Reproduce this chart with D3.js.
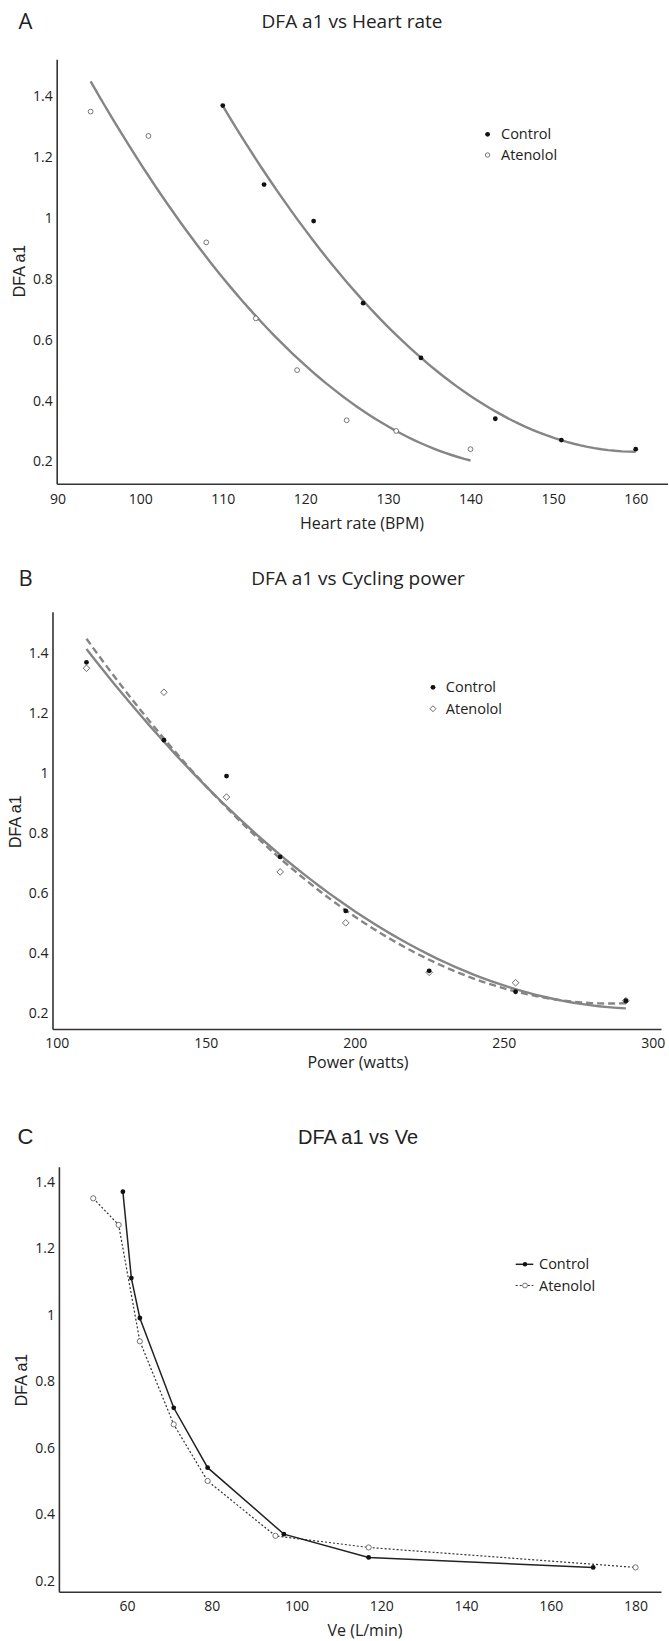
<!DOCTYPE html>
<html>
<head>
<meta charset="utf-8">
<script src="https://cdn.jsdelivr.net/npm/d3@7"></script>
<style>
  body { margin: 0; background: #fff; }
  svg text { font-family: "Open Sans", sans-serif; fill: #222; }
  .arial { font-family: "Liberation Sans", Arial, sans-serif !important; }
</style>
</head>
<body>
<svg id="chart" width="669" height="1641"></svg>
<script>
// DFA a1 at each exercise stage
const dfaControl = [1.37, 1.11, 0.99, 0.72, 0.54, 0.34, 0.27, 0.24];
const dfaAtenolol = [1.35, 1.27, 0.92, 0.67, 0.50, 0.335, 0.30, 0.24];

// panel A - heart rate
const hrControl = [110, 115, 121, 127, 134, 143, 151, 160];
const hrAtenolol = [94, 101, 108, 114, 119, 125, 131, 140];
// panel B - cycling power (same stages)
const powerControl = [110, 136, 157, 175, 197, 225, 254, 291];
const powerAtenolol = [110, 136, 157, 175, 197, 225, 254, 291];
// panel C - ventilation
const veControl = [59, 61, 63, 71, 79, 97, 117, 170];
const veAtenolol = [52, 58, 63, 71, 79, 95, 117, 180];

const yTicks = [0.2, 0.4, 0.6, 0.8, 1, 1.2, 1.4];
const hrTicks = [90, 100, 110, 120, 130, 140, 150, 160];
const powerTicks = [100, 150, 200, 250, 300];
const veTicks = [60, 80, 100, 120, 140, 160, 180];

const svg = d3.select("#chart");

// least squares quadratic, like the spreadsheet trendline
function polyfit2(xs, ys) {
    const n = xs.length;
    const mx = d3.mean(xs);
    let S = [0, 0, 0, 0, 0], T = [0, 0, 0];
    for (let i = 0; i < n; i++) {
        const u = xs[i] - mx;
        for (let k = 0; k < 5; k++) S[k] += Math.pow(u, k);
        for (let k = 0; k < 3; k++) T[k] += ys[i] * Math.pow(u, k);
    }
    const A = [[S[0], S[1], S[2]], [S[1], S[2], S[3]], [S[2], S[3], S[4]]];
    const det = m => m[0][0]*(m[1][1]*m[2][2]-m[1][2]*m[2][1]) - m[0][1]*(m[1][0]*m[2][2]-m[1][2]*m[2][0]) + m[0][2]*(m[1][0]*m[2][1]-m[1][1]*m[2][0]);
    const D = det(A);
    const c = [0, 1, 2].map(j => det(A.map((row, i) => row.map((v, k) => k === j ? T[i] : v))) / D);
    return x => { const u = x - mx; return c[0] + c[1]*u + c[2]*u*u; };
}

function fitPoints(xs, ys) {
    const f = polyfit2(xs, ys);
    const lo = d3.min(xs), hi = d3.max(xs);
    return d3.range(0, 61).map(i => { const x = lo + (hi - lo) * i / 60; return [x, f(x)]; });
}

function diamond(r) {
    return `M0,${-r}L${r},0L0,${r}L${-r},0Z`;
}

function drawFrame(p) {
    const g = svg.append("g");
    const x = d3.scaleLinear().domain(p.xDomain).range(p.xRange);
    const y = d3.scaleLinear().domain(p.yDomain).range(p.yRange);

    const xAxis = g.append("g").attr("transform", `translate(0,${p.yRange[0]})`)
        .call(d3.axisBottom(x).tickValues(p.xTicks).tickSize(0).tickSizeOuter(0).tickPadding(p.xPad));
    const yAxis = g.append("g").attr("transform", `translate(${p.xRange[0]},0)`)
        .call(d3.axisLeft(y).tickValues(yTicks).tickSize(0).tickSizeOuter(0).tickPadding(4)
            .tickFormat(d => d === 1 ? "1" : d3.format(".1f")(d)));
    [xAxis, yAxis].forEach(a => {
        a.select(".domain").attr("stroke", "#333").attr("stroke-width", 1.6);
        a.selectAll("text").attr("font-size", 14).attr("fill", "#222")
            .style("font-family", "'Open Sans', sans-serif");
    });

    g.append("text").attr("x", 25.5).attr("y", p.titleY).attr("dy", "0.35em")
        .attr("text-anchor", "middle").attr("font-size", 22)
        .attr("class", p.arialTitle ? "arial" : null).text(p.letter);
    g.append("text").attr("x", p.titleX).attr("y", p.titleY).attr("dy", "0.35em")
        .attr("text-anchor", "middle").attr("font-size", p.arialTitle ? 20 : 19)
        .attr("class", p.arialTitle ? "arial" : null).text(p.title);
    g.append("text").attr("x", p.xLabelX).attr("y", p.xLabelY).attr("dy", "0.35em")
        .attr("text-anchor", "middle").attr("font-size", 16).text(p.xLabel);
    g.append("text").attr("class", "arial")
        .attr("transform", `translate(${p.yLabelX},${p.yLabelY}) rotate(-90)`)
        .attr("dy", "0.35em").attr("text-anchor", "middle").attr("font-size", 16).text("DFA a1");

    return { g, x, y };
}

function legendText(g, lx, ly, label) {
    g.append("text").attr("x", lx).attr("y", ly).attr("dy", "0.35em")
        .attr("font-size", 14.5).text(label);
}

// ---------- A ----------
(function () {
    const { g, x, y } = drawFrame({
        letter: "A", title: "DFA a1 vs Heart rate", titleX: 352, titleY: 21.5,
        xDomain: [89.89, 163.85], xRange: [56.7, 667.5], xTicks: hrTicks, xPad: 10,
        yDomain: [0.1265, 1.522], yRange: [483.7, 59.3],
        xLabel: "Heart rate (BPM)", xLabelX: 362, xLabelY: 523.3, yLabelX: 19, yLabelY: 271
    });
    const line = d3.line().x(d => x(d[0])).y(d => y(d[1]));
    [[hrControl, dfaControl], [hrAtenolol, dfaAtenolol]].forEach(([xs, ys]) => {
        g.append("path").attr("d", line(fitPoints(xs, ys)))
            .attr("fill", "none").attr("stroke", "#858585").attr("stroke-width", 2.4);
    });
    g.selectAll(".ctl").data(d3.zip(hrControl, dfaControl)).join("circle")
        .attr("cx", d => x(d[0])).attr("cy", d => y(d[1])).attr("r", 2.4).attr("fill", "#111");
    g.selectAll(".ate").data(d3.zip(hrAtenolol, dfaAtenolol)).join("circle")
        .attr("cx", d => x(d[0])).attr("cy", d => y(d[1])).attr("r", 2.4)
        .attr("fill", "#fff").attr("stroke", "#555").attr("stroke-width", 0.8);

    g.append("circle").attr("cx", 487.6).attr("cy", 134.3).attr("r", 2.4).attr("fill", "#111");
    g.append("circle").attr("cx", 487.6).attr("cy", 155).attr("r", 2.2)
        .attr("fill", "#fff").attr("stroke", "#555").attr("stroke-width", 0.8);
    legendText(g, 501, 134.3, "Control");
    legendText(g, 501, 155, "Atenolol");
})();

// ---------- B ----------
(function () {
    const { g, x, y } = drawFrame({
        letter: "B", title: "DFA a1 vs Cycling power", titleX: 358, titleY: 578.3,
        xDomain: [98.6, 302.8], xRange: [52.5, 661], xTicks: powerTicks, xPad: 9,
        yDomain: [0.1456, 1.5389], yRange: [1029, 611.7],
        xLabel: "Power (watts)", xLabelX: 358, xLabelY: 1062, yLabelX: 15, yLabelY: 821.7
    });
    const line = d3.line().x(d => x(d[0])).y(d => y(d[1]));
    g.append("path").attr("d", line(fitPoints(powerControl, dfaControl)))
        .attr("fill", "none").attr("stroke", "#858585").attr("stroke-width", 2.4);
    g.append("path").attr("d", line(fitPoints(powerAtenolol, dfaAtenolol)))
        .attr("fill", "none").attr("stroke", "#858585").attr("stroke-width", 2.4)
        .attr("stroke-dasharray", "7,4");
    g.selectAll(".ate").data(d3.zip(powerAtenolol, dfaAtenolol)).join("path")
        .attr("transform", d => `translate(${x(d[0])},${y(d[1])})`).attr("d", diamond(3.3))
        .attr("fill", "#fff").attr("stroke", "#444").attr("stroke-width", 0.8);
    g.selectAll(".ctl").data(d3.zip(powerControl, dfaControl)).join("circle")
        .attr("cx", d => x(d[0])).attr("cy", d => y(d[1])).attr("r", 2.4).attr("fill", "#111");

    g.append("circle").attr("cx", 433).attr("cy", 687.3).attr("r", 2.4).attr("fill", "#111");
    g.append("path").attr("transform", "translate(433,708.7)").attr("d", diamond(3))
        .attr("fill", "#fff").attr("stroke", "#444").attr("stroke-width", 0.8);
    legendText(g, 445.8, 687.3, "Control");
    legendText(g, 445.8, 708.7, "Atenolol");
})();

// ---------- C ----------
(function () {
    const { g, x, y } = drawFrame({
        letter: "C", title: "DFA a1 vs Ve", titleX: 358, titleY: 1136.7, arialTitle: true,
        xDomain: [43.9, 186], xRange: [58.9, 661], xTicks: veTicks, xPad: 9,
        yDomain: [0.167, 1.445], yRange: [1591.7, 1166.7],
        xLabel: "Ve (L/min)", xLabelX: 365, xLabelY: 1630, yLabelX: 21, yLabelY: 1380
    });
    const line = d3.line().x(d => x(d[0])).y(d => y(d[1]));
    const ctl = d3.zip(veControl, dfaControl);
    const ate = d3.zip(veAtenolol, dfaAtenolol);
    g.append("path").attr("d", line(ate)).attr("fill", "none")
        .attr("stroke", "#333").attr("stroke-width", 1.2).attr("stroke-dasharray", "2,2");
    g.append("path").attr("d", line(ctl)).attr("fill", "none")
        .attr("stroke", "#222").attr("stroke-width", 1.5);
    g.selectAll(".ate").data(ate).join("circle")
        .attr("cx", d => x(d[0])).attr("cy", d => y(d[1])).attr("r", 2.6)
        .attr("fill", "#fff").attr("stroke", "#666").attr("stroke-width", 0.9);
    g.selectAll(".ctl").data(ctl).join("circle")
        .attr("cx", d => x(d[0])).attr("cy", d => y(d[1])).attr("r", 2.4).attr("fill", "#111");

    g.append("line").attr("x1", 515.7).attr("x2", 533.3).attr("y1", 1264.3).attr("y2", 1264.3)
        .attr("stroke", "#222").attr("stroke-width", 1.5);
    g.append("circle").attr("cx", 525).attr("cy", 1264.3).attr("r", 2.2).attr("fill", "#111");
    g.append("line").attr("x1", 515.7).attr("x2", 533.3).attr("y1", 1285.5).attr("y2", 1285.5)
        .attr("stroke", "#333").attr("stroke-width", 1.2).attr("stroke-dasharray", "2,2");
    g.append("circle").attr("cx", 525).attr("cy", 1285.5).attr("r", 2.4)
        .attr("fill", "#fff").attr("stroke", "#666").attr("stroke-width", 0.9);
    legendText(g, 539, 1264.3, "Control");
    legendText(g, 539, 1285.5, "Atenolol");
})();
</script>
</body>
</html>
